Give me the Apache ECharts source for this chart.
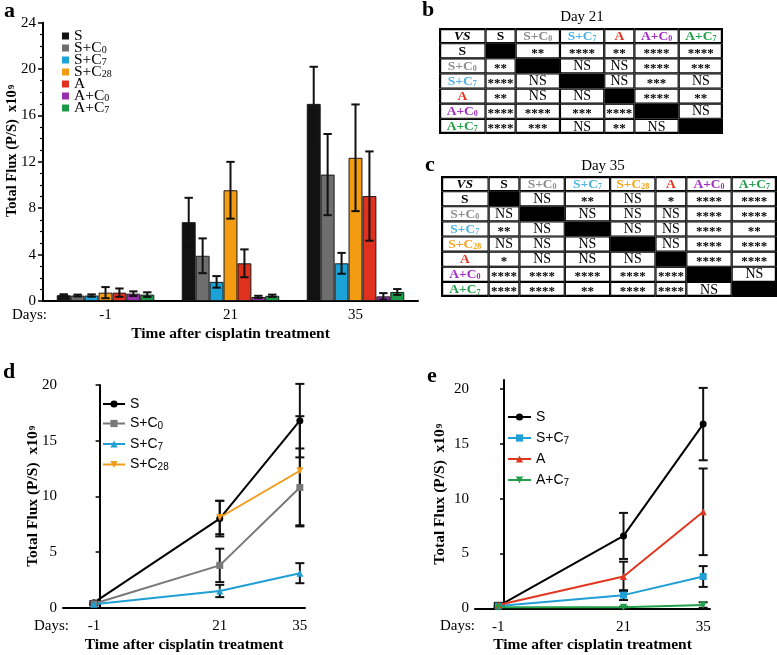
<!DOCTYPE html>
<html><head><meta charset="utf-8">
<script src="https://cdn.jsdelivr.net/npm/echarts@6/dist/echarts.min.js"></script>
<style>html,body{margin:0;padding:0;background:#fff}#chart{width:777px;height:655px}</style>
</head><body><div id="chart"></div>
<script>
// ================= DATA =================
// Panel a (bars): mean and SEM for each group at each day
const barDays = ['-1', '21', '35'];
const barGroups = ['S', 'S+C0', 'S+C7', 'S+C28', 'A', 'A+C0', 'A+C7'];
const barMeanS    = [0.50, 6.80, 17.00];
const barMeanSC0  = [0.47, 3.90, 10.90];
const barMeanSC7  = [0.47, 1.65, 3.25];
const barMeanSC28 = [0.72, 9.55, 12.35];
const barMeanA    = [0.72, 3.25, 9.05];
const barMeanAC0  = [0.63, 0.35, 0.40];
const barMeanAC7  = [0.55, 0.45, 0.78];
const barErrS    = [0.08, 2.10, 3.20];
const barErrSC0  = [0.08, 1.50, 3.50];
const barErrSC7  = [0.10, 0.50, 0.90];
const barErrSC28 = [0.48, 2.45, 4.60];
const barErrA    = [0.36, 1.20, 3.85];
const barErrAC0  = [0.20, 0.10, 0.28];
const barErrAC7  = [0.20, 0.10, 0.25];

// Panels d and e (lines)
const lineDays = [-1, 21, 35];
const dMeanS   = [0.45, 8.0, 16.8],  dErrS   = [0.15, 1.6, 3.3];
const dMeanSC0 = [0.35, 3.8, 10.8],  dErrSC0 = [0.10, 1.5, 3.5];
const dMeanSC7 = [0.30, 1.5, 3.1],   dErrSC7 = [0.10, 0.55, 0.9];
const dDaysSC28 = [21, 35], dMeanSC28 = [8.1, 12.3], dErrSC28 = [1.5, 4.9];
const eMeanS   = [0.2, 6.6, 16.8],   eErrS   = [0.3, 2.1, 3.3];
const eMeanSC7 = [0.2, 1.2, 2.9],    eErrSC7 = [0.1, 0.45, 0.95];
const eMeanA   = [0.3, 2.9, 8.8],    eErrA   = [0.1, 1.35, 3.95];
const eMeanAC7 = [0.1, 0.1, 0.3],    eErrAC7 = [0.05, 0.05, 0.25];
const lineTicksX = [-1, 21, 35];
const lineTicksY = [0, 5, 10, 15, 20];

// Panels b and c (significance tables)
const tableBGroups = ['S', 'S+C0', 'S+C7', 'A', 'A+C0', 'A+C7'];
const tableBSig = [
  ['', '**', '****', '**', '****', '****'],
  ['**', '', 'NS', 'NS', '****', '***'],
  ['****', 'NS', '', 'NS', '***', 'NS'],
  ['**', 'NS', 'NS', '', '****', '**'],
  ['****', '****', '***', '****', '', 'NS'],
  ['****', '***', 'NS', '**', 'NS', '']
];
const tableCGroups = ['S', 'S+C0', 'S+C7', 'S+C28', 'A', 'A+C0', 'A+C7'];
const tableCSig = [
  ['', 'NS', '**', 'NS', '*', '****', '****'],
  ['NS', '', 'NS', 'NS', 'NS', '****', '****'],
  ['**', 'NS', '', 'NS', 'NS', '****', '**'],
  ['NS', 'NS', 'NS', '', 'NS', '****', '****'],
  ['*', 'NS', 'NS', 'NS', '', '****', '****'],
  ['****', '****', '****', '****', '****', '', 'NS'],
  ['****', '****', '**', '****', '****', 'NS', '']
];

// ================= STYLE =================
const SERIF = '"Liberation Serif","Times New Roman",serif';
const SANS = '"Liberation Sans",Arial,sans-serif';
const barColor = {'S':'#121212','S+C0':'#6e6e6e','S+C7':'#1ba3d8','S+C28':'#f39c12','A':'#e0311f','A+C0':'#9a2fae','A+C7':'#1c9a4a'};
const lineColor = {'S':'#000000','S+C0':'#787878','S+C7':'#1f9fd5','S+C28':'#f29b1a','A':'#e1361f','A+C7':'#22a04a'};
const headColor = {'S':'#000000','S+C0':'#8c8c8c','S+C7':'#4cb2e3','S+C28':'#f5a21d','A':'#e4321f','A+C0':'#a22cc4','A+C7':'#1e9e44'};
const invTri = 'path://M0,0 L10,0 L5,9 Z';

function richName(n) { return n.replace(/C(\d+)$/, 'C{sub|$1}'); }

const barMeans = [barMeanS, barMeanSC0, barMeanSC7, barMeanSC28, barMeanA, barMeanAC0, barMeanAC7];
const barErrs = [barErrS, barErrSC0, barErrSC7, barErrSC28, barErrA, barErrAC0, barErrAC7];
const CAT_GAP = 0.22;

const series = [];
barGroups.forEach((g, k) => {
  series.push({
    type: 'bar', name: 'a:' + g, xAxisIndex: 0, yAxisIndex: 0,
    data: barMeans[k], barGap: '0%', barCategoryGap: (CAT_GAP * 100) + '%',
    itemStyle: { color: barColor[g], borderColor: '#1a1a1a', borderWidth: 1 },
    silent: true
  });
});
const barErrData = [];
barGroups.forEach((g, k) => barMeans[k].forEach((m, i) => barErrData.push([i, m - barErrs[k][i], m + barErrs[k][i], k])));
series.push({
  type: 'custom', xAxisIndex: 0, yAxisIndex: 0, z: 5, silent: true, data: barErrData,
  renderItem(params, api) {
    const cat = api.value(0), k = api.value(3);
    const band = api.size([1, 0])[0];
    const lo = api.coord([cat, Math.max(0, api.value(1))]);
    const hi = api.coord([cat, api.value(2)]);
    const groupW = band * (1 - CAT_GAP), bw = groupW / barGroups.length;
    const x = lo[0] - groupW / 2 + (k + 0.5) * bw;
    const c = 4.2;
    const st = { stroke: '#111', lineWidth: 2 };
    return { type: 'group', children: [
      { type: 'line', shape: { x1: x, y1: lo[1], x2: x, y2: hi[1] }, style: st },
      { type: 'line', shape: { x1: x - c, y1: hi[1], x2: x + c, y2: hi[1] }, style: st },
      { type: 'line', shape: { x1: x - c, y1: lo[1], x2: x + c, y2: lo[1] }, style: st }
    ]};
  }
});

function errBarSeries(xi, yi, sets) {
  const data = [];
  sets.forEach(s => s.days.forEach((d, i) => data.push([d, s.mean[i] - s.err[i], s.mean[i] + s.err[i]])));
  return {
    type: 'custom', xAxisIndex: xi, yAxisIndex: yi, silent: true, z: 2, data,
    renderItem(params, api) {
      const lo = api.coord([api.value(0), Math.max(0, api.value(1))]);
      const hi = api.coord([api.value(0), api.value(2)]);
      const x = lo[0], c = 4.5;
      const st = { stroke: '#111', lineWidth: 2 };
      return { type: 'group', children: [
        { type: 'line', shape: { x1: x, y1: lo[1], x2: x, y2: hi[1] }, style: st },
        { type: 'line', shape: { x1: x - c, y1: hi[1], x2: x + c, y2: hi[1] }, style: st },
        { type: 'line', shape: { x1: x - c, y1: lo[1], x2: x + c, y2: lo[1] }, style: st }
      ]};
    }
  };
}
const dSets = [
  { g: 'S', days: lineDays, mean: dMeanS, err: dErrS, sym: 'circle' },
  { g: 'S+C0', days: lineDays, mean: dMeanSC0, err: dErrSC0, sym: 'rect' },
  { g: 'S+C7', days: lineDays, mean: dMeanSC7, err: dErrSC7, sym: 'triangle' },
  { g: 'S+C28', days: dDaysSC28, mean: dMeanSC28, err: dErrSC28, sym: invTri }
];
const eSets = [
  { g: 'S', days: lineDays, mean: eMeanS, err: eErrS, sym: 'circle' },
  { g: 'S+C7', days: lineDays, mean: eMeanSC7, err: eErrSC7, sym: 'rect' },
  { g: 'A', days: lineDays, mean: eMeanA, err: eErrA, sym: 'triangle' },
  { g: 'A+C7', days: lineDays, mean: eMeanAC7, err: eErrAC7, sym: invTri }
];
series.push(errBarSeries(1, 1, dSets));
series.push(errBarSeries(2, 2, eSets));
function lineSeries(prefix, xi, yi, s) {
  return {
    type: 'line', name: prefix + s.g, xAxisIndex: xi, yAxisIndex: yi, z: 3, silent: true,
    data: s.days.map((d, i) => [d, s.mean[i]]),
    symbol: s.sym, symbolSize: 7,
    lineStyle: { width: 2, color: lineColor[s.g] },
    itemStyle: { color: lineColor[s.g] }
  };
}
dSets.forEach(s => series.push(lineSeries('d:', 1, 1, s)));
eSets.forEach(s => series.push(lineSeries('e:', 2, 2, s)));

// ---------- tables ----------
function colWeight(label) { return label === 'VS' ? 1.05 : (label.length === 1 ? 0.68 : 1.0); }
function tableSeries(groups, sig, xi, yi) {
  const labels = ['VS'].concat(groups);
  const edges = [0];
  labels.forEach(l => edges.push(edges[edges.length - 1] + colWeight(l)));
  const n = labels.length;
  const data = [], info = [];
  for (let r = 0; r < n; r++) for (let c = 0; c < n; c++) {
    data.push([edges[c], edges[c + 1], r, r + 1]);
    let kind, text = '';
    if (r === 0 && c === 0) { kind = 'corner'; text = 'VS'; }
    else if (r === 0) { kind = 'head'; text = labels[c]; }
    else if (c === 0) { kind = 'head'; text = labels[r]; }
    else if (r === c) { kind = 'diag'; }
    else { kind = 'cell'; text = sig[r - 1][c - 1]; }
    info.push({ kind, text, r, c });
  }
  return {
    type: 'custom', xAxisIndex: xi, yAxisIndex: yi, silent: true, data,
    renderItem(params, api) {
      const p0 = api.coord([api.value(0), api.value(2)]);
      const p1 = api.coord([api.value(1), api.value(3)]);
      const x = p0[0], y = p0[1], w = p1[0] - p0[0], h = p1[1] - p0[1];
      const inf = info[params.dataIndex];
      const ch = [{ type: 'rect', shape: { x, y, width: w, height: h }, style: { fill: '#000' } }];
      if (inf.kind !== 'diag') {
        const il = inf.c === 0 ? 2.2 : 1.1, ir = inf.c === n - 1 ? 2.2 : 1.1;
        const it = inf.r === 0 ? 2.2 : 1.1, ib = inf.r === n - 1 ? 2.2 : 1.1;
        ch.push({ type: 'rect', shape: { x: x + il, y: y + it, width: w - il - ir, height: h - it - ib }, style: { fill: '#fff' } });
      }
      const cx = x + w / 2, cy = y + h / 2 + 0.5;
      if (inf.kind === 'corner') {
        ch.push({ type: 'text', style: { x: cx, y: cy, text: 'VS', fill: '#000', fontFamily: SERIF, fontSize: 13.5, fontWeight: 'bold', fontStyle: 'italic', align: 'center', verticalAlign: 'middle' } });
      } else if (inf.kind === 'head') {
        const col = headColor[inf.text];
        ch.push({ type: 'text', style: { x: cx, y: cy, text: richName(inf.text), fill: col, fontFamily: SERIF, fontSize: 13.5, fontWeight: 'bold', lineHeight: 13, align: 'center', verticalAlign: 'middle',
          rich: { sub: { fill: col, fontFamily: SERIF, fontSize: 8, fontWeight: 'bold', lineHeight: 13, padding: [5, 0, 0, 0] } } } });
      } else if (inf.kind === 'cell') {
        const ns = inf.text === 'NS';
        ch.push({ type: 'text', style: { x: cx, y: ns ? cy : cy + 2, text: inf.text, fill: '#000', fontFamily: SERIF, fontSize: ns ? 14 : 13, fontWeight: ns ? 'normal' : 'bold', align: 'center', verticalAlign: 'middle' } });
      }
      return { type: 'group', children: ch };
    }
  };
}
function tableWidth(groups) { return ['VS'].concat(groups).reduce((s, l) => s + colWeight(l), 0); }
series.push(tableSeries(tableBGroups, tableBSig, 3, 3));
series.push(tableSeries(tableCGroups, tableCSig, 4, 4));

// ================= AXES =================
const axisLineStyle = { show: true, lineStyle: { color: '#000', width: 2 } };
const tickLabel = { color: '#000', fontFamily: SERIF, fontSize: 15 };
const yName = 'Total Flux (P/S)  x10{sup|9}';
function yNameStyle(size, pad) {
  return { color: '#000', fontFamily: SERIF, fontWeight: 'bold', fontSize: size, lineHeight: 16, padding: pad,
    rich: { sup: { fontFamily: SERIF, fontWeight: 'bold', fontSize: 9, lineHeight: 16, padding: [0, 0, 0, 1] } } };
}
const xNameStyle = { color: '#000', fontFamily: SERIF, fontWeight: 'bold', fontSize: 15.5 };
const xTitle = 'Time after cisplatin treatment';

const option = {
  animation: false,
  backgroundColor: '#fff',
  grid: [
    { left: 43, top: 22.7, width: 375, height: 278.3 },
    { left: 63, top: 385, width: 242, height: 222.7 },
    { left: 475, top: 380, width: 235, height: 228.3 },
    { left: 439, top: 28, width: 284, height: 106 },
    { left: 441, top: 176, width: 336, height: 121 }
  ],
  xAxis: [
    { type: 'category', gridIndex: 0, data: barDays, axisLine: axisLineStyle, axisTick: { show: false },
      axisLabel: Object.assign({ margin: 7 }, tickLabel), splitLine: { show: false },
      name: xTitle, nameLocation: 'middle', nameGap: 25, nameMoveOverlap: false, nameTextStyle: xNameStyle },
    { type: 'value', gridIndex: 1, min: -6.4, max: 35.9, axisLine: axisLineStyle, axisTick: { show: false },
      axisLabel: Object.assign({ margin: 11, customValues: lineTicksX }, tickLabel), splitLine: { show: false },
      name: xTitle, nameLocation: 'middle', nameGap: 29, nameMoveOverlap: false, nameTextStyle: xNameStyle },
    { type: 'value', gridIndex: 2, min: -5.1, max: 36.2, axisLine: axisLineStyle, axisTick: { show: false },
      axisLabel: Object.assign({ margin: 11, customValues: lineTicksX }, tickLabel), splitLine: { show: false },
      name: xTitle, nameLocation: 'middle', nameGap: 29, nameMoveOverlap: false, nameTextStyle: xNameStyle },
    { type: 'value', gridIndex: 3, min: 0, max: tableWidth(tableBGroups), show: false },
    { type: 'value', gridIndex: 4, min: 0, max: tableWidth(tableCGroups), show: false }
  ],
  yAxis: [
    { type: 'value', gridIndex: 0, min: 0, max: 24, interval: 4, axisLine: axisLineStyle,
      axisTick: { show: true, length: 5, lineStyle: { color: '#000', width: 1.5 } },
      minorTick: { show: true, splitNumber: 4, length: 3, lineStyle: { color: '#000', width: 1.2 } },
      splitLine: { show: false }, minorSplitLine: { show: false },
      axisLabel: Object.assign({ margin: 7 }, tickLabel),
      name: yName, nameLocation: 'middle', nameGap: 23, nameMoveOverlap: false, nameTextStyle: yNameStyle(14.5, [0, 0, 0, 22]) },
    { type: 'value', gridIndex: 1, min: 0, max: 20, interval: 5, axisLine: axisLineStyle,
      axisTick: { show: true, length: 4, lineStyle: { color: '#000', width: 1.5 } },
      splitLine: { show: false },
      axisLabel: Object.assign({ margin: 6 }, tickLabel),
      name: yName, nameLocation: 'middle', nameGap: 22, nameMoveOverlap: false, nameTextStyle: yNameStyle(15.5, 0) },
    { type: 'value', gridIndex: 2, min: 0, max: 20.82, axisLine: axisLineStyle,
      axisTick: { show: true, length: 4, customValues: lineTicksY, lineStyle: { color: '#000', width: 1.5 } },
      splitLine: { show: false },
      axisLabel: Object.assign({ margin: 6, customValues: lineTicksY }, tickLabel),
      name: yName, nameLocation: 'middle', nameGap: 27, nameMoveOverlap: false, nameTextStyle: yNameStyle(15.5, 0) },
    { type: 'value', gridIndex: 3, min: 0, max: tableBGroups.length + 1, inverse: true, show: false },
    { type: 'value', gridIndex: 4, min: 0, max: tableCGroups.length + 1, inverse: true, show: false }
  ],
  legend: [
    { data: barGroups.map(g => 'a:' + g), orient: 'vertical', left: 62, top: 28, padding: 0, icon: 'rect',
      itemWidth: 7, itemHeight: 7, itemGap: -4, selectedMode: false,
      itemStyle: { borderWidth: 0 },
      formatter: n => richName(n.slice(2)),
      textStyle: { color: '#000', fontFamily: SERIF, fontSize: 15.5, lineHeight: 12,
        rich: { sub: { fontFamily: SERIF, fontSize: 10, lineHeight: 12, padding: [5, 0, 0, 0] } } } },
    { data: dSets.map(s => 'd:' + s.g), orient: 'vertical', left: 102, top: 397, padding: 0,
      itemWidth: 22, itemHeight: 9, itemGap: 4.5, selectedMode: false,
      formatter: n => richName(n.slice(2)),
      textStyle: { color: '#000', fontFamily: SANS, fontSize: 14, lineHeight: 14,
        rich: { sub: { fontFamily: SANS, fontSize: 10, lineHeight: 14, padding: [6, 0, 0, 0] } } } },
    { data: eSets.map(s => 'e:' + s.g), orient: 'vertical', left: 507, top: 410, padding: 0,
      itemWidth: 23, itemHeight: 9, itemGap: 6, selectedMode: false,
      formatter: n => richName(n.slice(2)),
      textStyle: { color: '#000', fontFamily: SANS, fontSize: 14, lineHeight: 14,
        rich: { sub: { fontFamily: SANS, fontSize: 10, lineHeight: 14, padding: [6, 0, 0, 0] } } } }
  ],
  graphic: [
    { type: 'text', left: 4, top: 0, style: { text: 'a', fontFamily: SERIF, fontSize: 22, fontWeight: 'bold', fill: '#000' } },
    { type: 'text', left: 422, top: -1, style: { text: 'b', fontFamily: SERIF, fontSize: 22, fontWeight: 'bold', fill: '#000' } },
    { type: 'text', left: 425, top: 154, style: { text: 'c', fontFamily: SERIF, fontSize: 22, fontWeight: 'bold', fill: '#000' } },
    { type: 'text', left: 3, top: 361, style: { text: 'd', fontFamily: SERIF, fontSize: 22, fontWeight: 'bold', fill: '#000' } },
    { type: 'text', left: 427, top: 365, style: { text: 'e', fontFamily: SERIF, fontSize: 22, fontWeight: 'bold', fill: '#000' } },
    { type: 'text', x: 582, y: 17, style: { text: 'Day 21', fontFamily: SERIF, fontSize: 15, fill: '#000', align: 'center', verticalAlign: 'middle' } },
    { type: 'text', x: 603, y: 166, style: { text: 'Day 35', fontFamily: SERIF, fontSize: 15, fill: '#000', align: 'center', verticalAlign: 'middle' } },
    { type: 'text', x: 12, y: 315, style: { text: 'Days:', fontFamily: SERIF, fontSize: 15, fill: '#000', verticalAlign: 'middle' } },
    { type: 'text', x: 34, y: 626, style: { text: 'Days:', fontFamily: SERIF, fontSize: 15, fill: '#000', verticalAlign: 'middle' } },
    { type: 'text', x: 440, y: 626, style: { text: 'Days:', fontFamily: SERIF, fontSize: 15, fill: '#000', verticalAlign: 'middle' } }
  ],
  series
};
const chart = echarts.init(document.getElementById('chart'), null, { renderer: 'canvas' });
chart.setOption(option);
</script></body></html>
